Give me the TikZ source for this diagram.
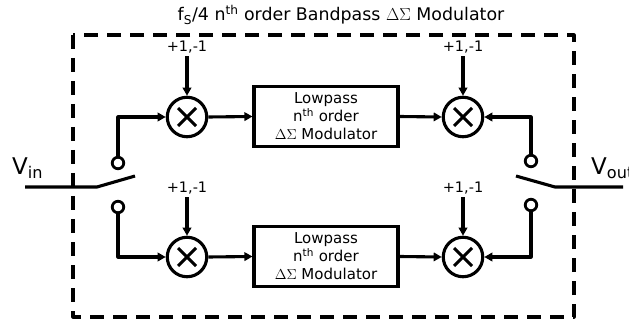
\documentclass[tikz,border=0pt]{standalone}
\usepackage{fontspec}
\setmainfont{DejaVu Sans}
\usetikzlibrary{arrows.meta}
\tikzset{
  wire/.style={line width=3.1pt,line join=round},
  arr/.style={wire,-{Triangle[length=8pt,width=8.5pt]}},
  mult/.style={circle,draw,line width=3.1pt,minimum size=39.5pt,inner sep=0pt},
  lpf/.style={draw,line width=3.1pt,minimum width=144pt,minimum height=60pt,align=center,inner sep=0pt,
    font=\fontsize{15}{18}\selectfont},
  term/.style={circle,draw,line width=2.8pt,minimum size=11.5pt,inner sep=0pt,fill=white},
  pm/.style={font=\fontsize{14.5}{15}\selectfont,inner sep=0pt},
  big/.style={font=\fontsize{23}{23}\selectfont,inner sep=0pt},
  frame/.style={line width=3.1pt,dash pattern=on 14pt off 9pt,line join=round}
}
\newcommand{\crossin}[1]{\draw[line width=3pt] ([shift={(-9pt,-9pt)}]#1.center) -- ([shift={(9pt,9pt)}]#1.center)
  ([shift={(-9pt,9pt)}]#1.center) -- ([shift={(9pt,-9pt)}]#1.center);}
\begin{document}
\begin{tikzpicture}[x=1pt,y=-1pt]
\useasboundingbox (0,0) rectangle (629,323);
\draw[frame] (73,35) rectangle (574,317);
\node[font=\fontsize{17.4}{17}\selectfont,anchor=base,inner sep=0pt] (title) at (341,21)
  {f\textsubscript{S}/4 n\textsuperscript{th} order Bandpass $\Delta\Sigma$ Modulator};
% multipliers
\node[mult] (m1) at (187,117) {};
\node[mult] (m2) at (187,257) {};
\node[mult] (m3) at (463,117) {};
\node[mult] (m4) at (463,257) {};
\crossin{m1}\crossin{m2}\crossin{m3}\crossin{m4}
% lowpass boxes
\node[lpf] (b1) at (326,116.5) {Lowpass\\n\textsuperscript{th} order\\$\Delta\Sigma$ Modulator};
\node[lpf] (b2) at (326,256.5) {Lowpass\\n\textsuperscript{th} order\\$\Delta\Sigma$ Modulator};
% +1,-1 labels
\node[pm] (p1) at (187,47) {+1,-1};
\node[pm] (p2) at (187,188) {+1,-1};
\node[pm] (p3) at (463,47) {+1,-1};
\node[pm] (p4) at (463,188) {+1,-1};
\draw[arr,shorten <=3pt] (p1.south) -- (m1.north);
\draw[arr,shorten <=3pt] (p2.south) -- (m2.north);
\draw[arr,shorten <=3pt] (p3.south) -- (m3.north);
\draw[arr,shorten <=3pt] (p4.south) -- (m4.north);
% multiplier to box, box to multiplier
\draw[arr] (m1.east) -- (b1.west);
\draw[arr] (m2.east) -- (b2.west);
\draw[arr] (b1.east) -- (m3.west);
\draw[arr] (b2.east) -- (m4.west);
% switch terminals
\node[term] (t1) at (118,163) {};
\node[term] (t2) at (118,207) {};
\node[term] (t3) at (531,161) {};
\node[term] (t4) at (531,205) {};
\draw[arr] (t1.north) |- (m1.west);
\draw[arr] (t2.south) |- (m2.west);
\draw[arr] (t3.north) |- (m3.east);
\draw[arr] (t4.south) |- (m4.east);
% switches
\coordinate (vin) at (25,187);
\coordinate (pivL) at (97,187);
\coordinate (tipL) at (135,176);
\coordinate (tipR) at (516,176);
\coordinate (pivR) at (555,187);
\coordinate (vout) at (623,187);
\draw[wire] (vin) -- (pivL) -- (tipL);
\draw[wire] (tipR) -- (pivR) -- (vout);
\node[big,anchor=base west] (lin) at (12,175) {V\textsubscript{in}};
\node[big,anchor=base west] (lout) at (591,175) {V\textsubscript{out}};
\end{tikzpicture}
\end{document}
